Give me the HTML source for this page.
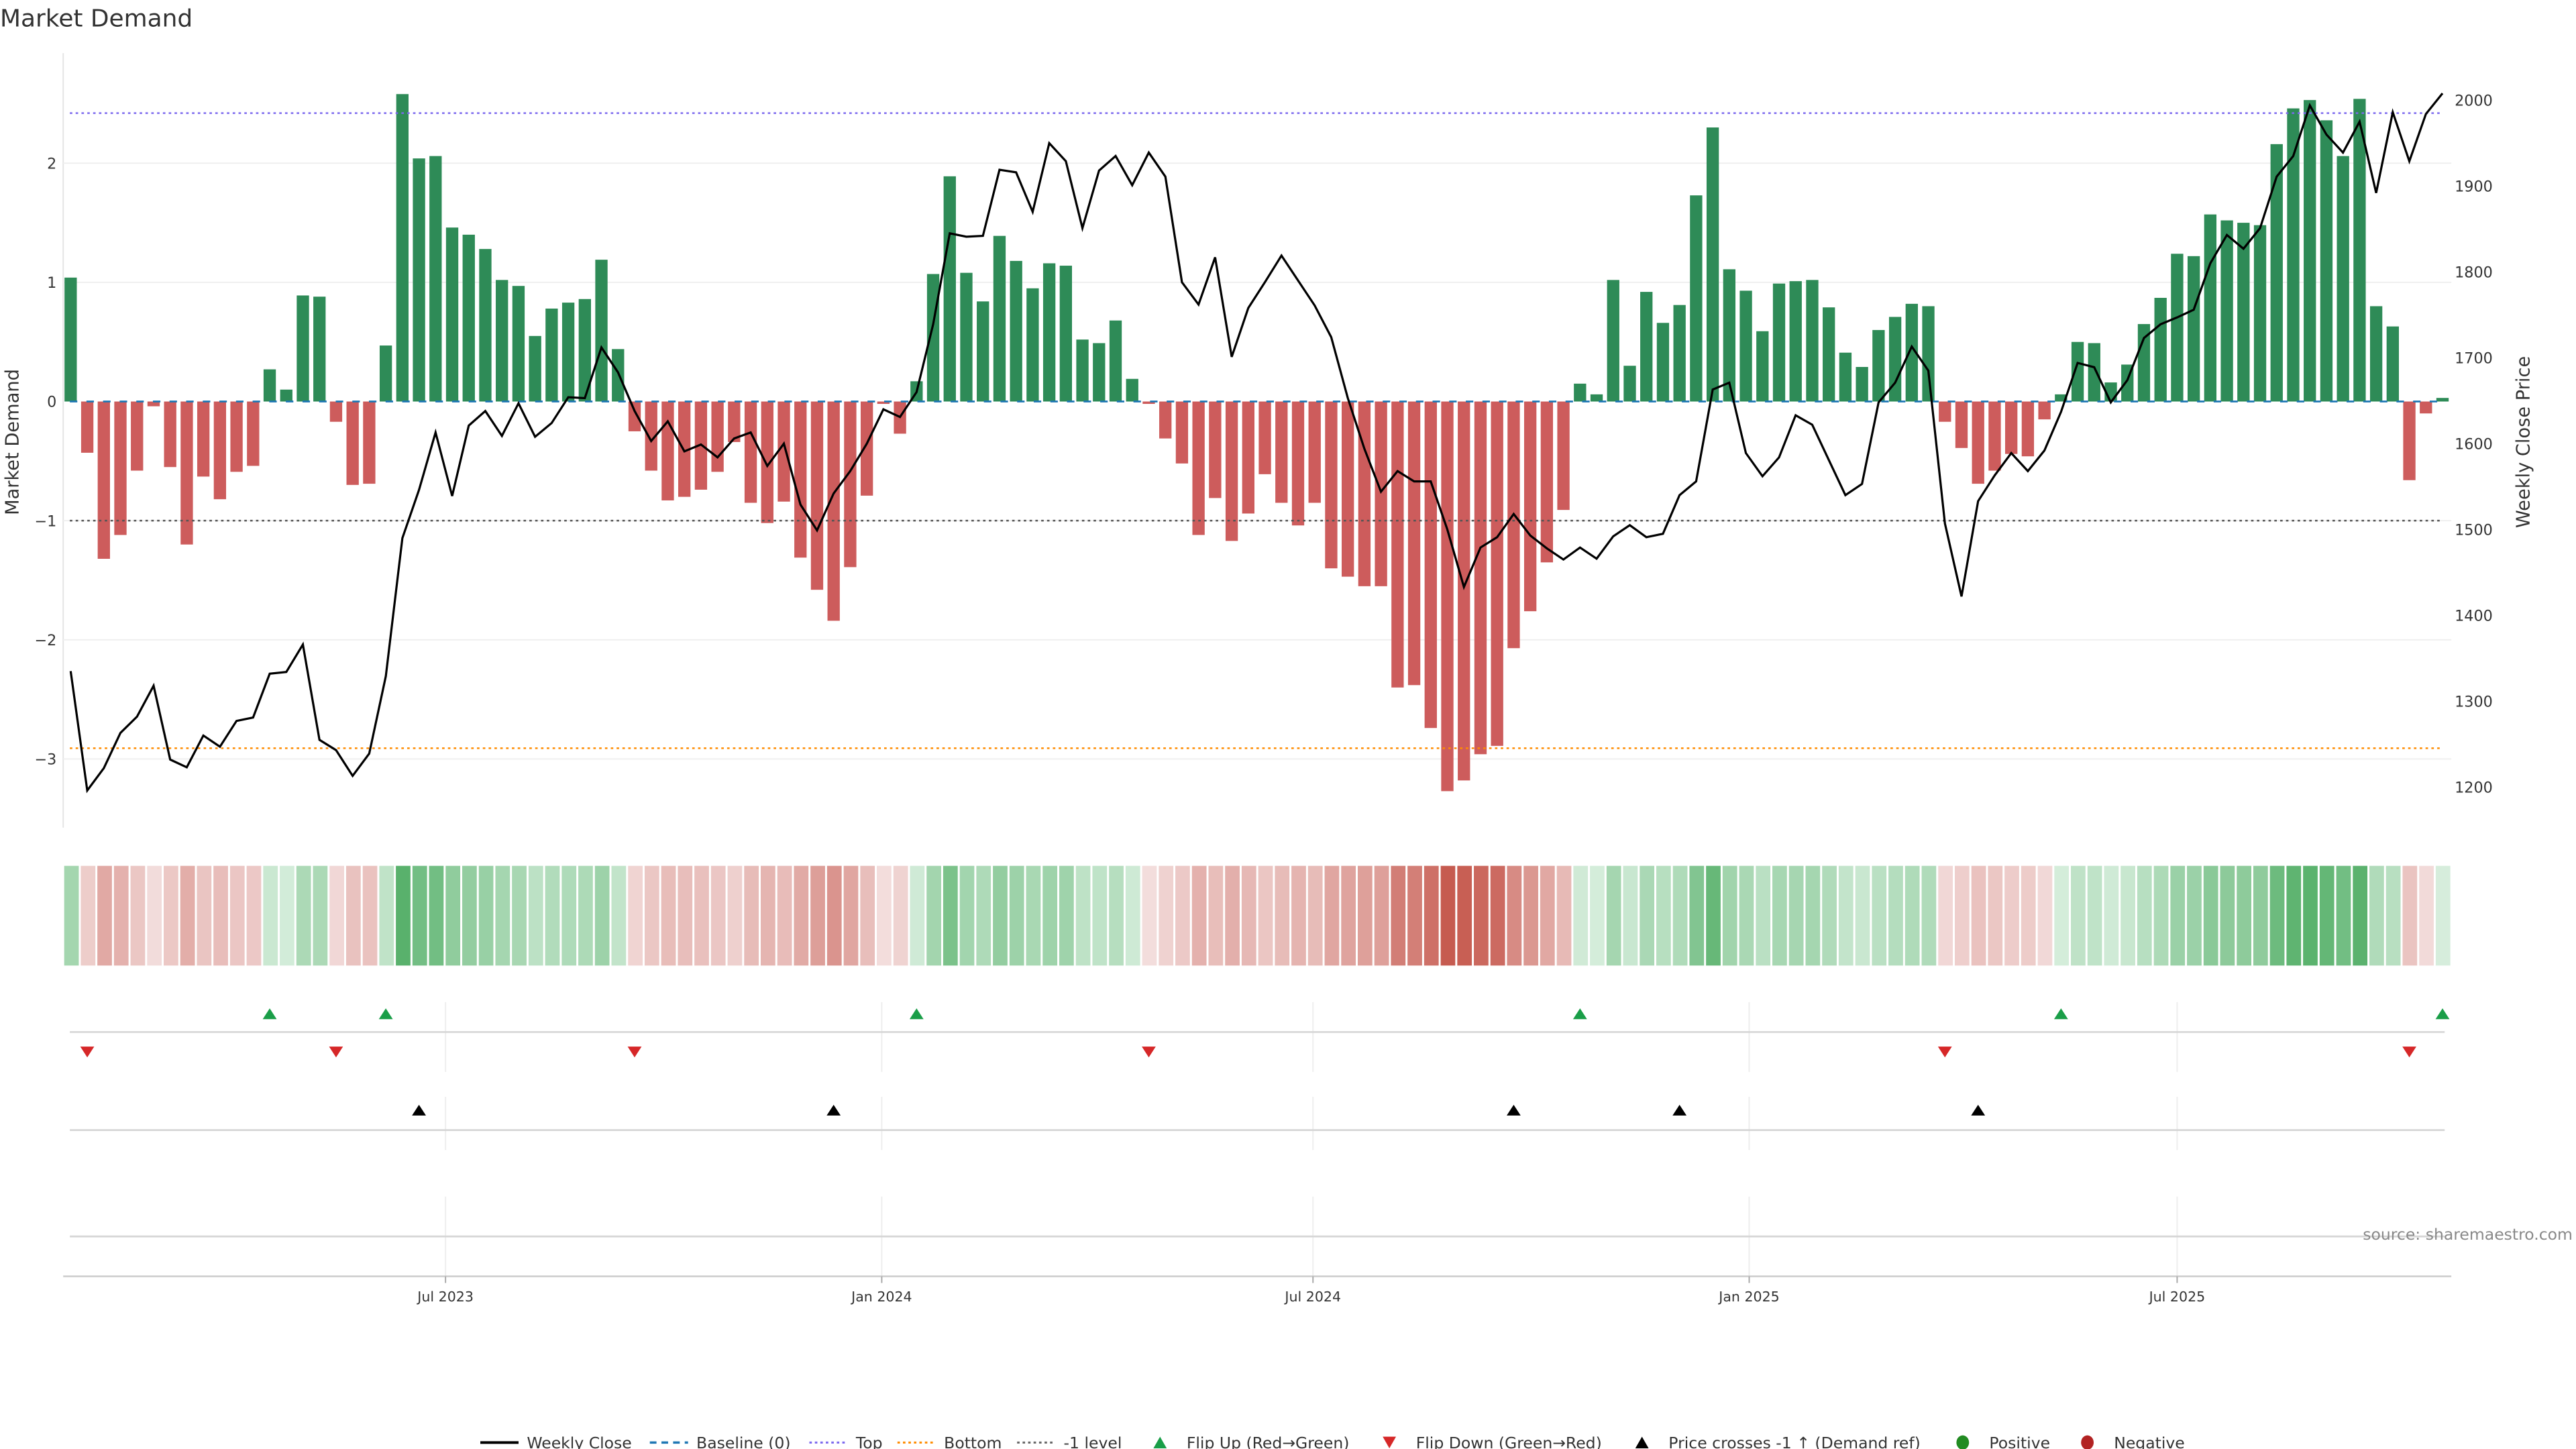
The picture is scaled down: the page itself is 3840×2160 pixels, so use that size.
<!DOCTYPE html>
<html><head><meta charset="utf-8"><title>Market Demand</title>
<style>
html,body{margin:0;padding:0;background:#fff;}
svg{display:block;font-family:"DejaVu Sans","Liberation Sans",sans-serif;}
</style></head>
<body>
<svg id="chart" xmlns="http://www.w3.org/2000/svg" width="3840" height="2160" viewBox="0 0 1550 871.9">
  <text x="0" y="16" font-size="14.5" fill="#333">Market Demand</text>
  <text transform="translate(11,266) rotate(-90)" text-anchor="middle" font-size="11" fill="#333">Market Demand</text>
  <text transform="translate(1522,266) rotate(-90)" text-anchor="middle" font-size="11" fill="#333">Weekly Close Price</text>
  <g id="main"></g>
  <g id="heat"></g>
  <g id="events"></g>
  <g id="xaxis"></g>
  <text x="1548" y="746" text-anchor="end" font-size="9.5" fill="#888">source: sharemaestro.com</text>
  <g id="legend"></g>
</svg>
<script>
// ---- data ----
const demand = [1.04,-0.43,-1.32,-1.12,-0.58,-0.04,-0.55,-1.20,-0.63,-0.82,-0.59,-0.54,0.27,0.10,0.89,0.88,-0.17,-0.70,-0.69,0.47,
2.58,2.04,2.06,1.46,1.40,1.28,1.02,0.97,0.55,0.78,0.83,0.86,1.19,0.44,-0.25,-0.58,-0.83,-0.80,-0.74,-0.59,
-0.34,-0.85,-1.02,-0.84,-1.31,-1.58,-1.84,-1.39,-0.79,-0.02,-0.27,0.17,1.07,1.89,1.08,0.84,1.39,1.18,0.95,1.16,
1.14,0.52,0.49,0.68,0.19,-0.02,-0.31,-0.52,-1.12,-0.81,-1.17,-0.94,-0.61,-0.85,-1.04,-0.85,-1.40,-1.47,-1.55,-1.55,
-2.40,-2.38,-2.74,-3.27,-3.18,-2.96,-2.89,-2.07,-1.76,-1.35,-0.91,0.15,0.06,1.02,0.30,0.92,0.66,0.81,1.73,2.30,
1.11,0.93,0.59,0.99,1.01,1.02,0.79,0.41,0.29,0.60,0.71,0.82,0.80,-0.17,-0.39,-0.69,-0.58,-0.44,-0.46,-0.15,
0.06,0.50,0.49,0.16,0.31,0.65,0.87,1.24,1.22,1.57,1.52,1.50,1.48,2.16,2.46,2.53,2.36,2.06,2.54,0.80,
0.63,-0.66,-0.10,0.03];
const closePrice = [1335,1196,1222,1263,1282,1318,1232,1223,1260,1247,1277,1281,1332,1334,1366,1255,1243,1213,1239,1329,
1490,1546,1613,1539,1621,1638,1609,1647,1608,1624,1654,1653,1712,1683,1638,1603,1626,1591,1599,1584,
1606,1613,1574,1600,1529,1499,1542,1568,1600,1640,1631,1660,1739,1845,1841,1842,1919,1916,1870,1950,
1929,1851,1918,1935,1901,1939,1911,1788,1762,1817,1701,1758,1788,1819,1790,1761,1724,1653,1594,1544,
1568,1556,1556,1500,1433,1479,1491,1518,1493,1478,1465,1479,1466,1492,1505,1491,1495,1540,1556,1663,
1671,1589,1562,1584,1633,1622,1581,1540,1553,1648,1671,1713,1685,1507,1422,1533,1563,1589,1568,1592,
1637,1694,1689,1648,1674,1723,1739,1747,1756,1810,1843,1827,1851,1911,1935,1994,1960,1939,1975,1892,
1986,1929,1984,2008];
const leftTicks = [2,1,0,-1,-2,-3];
const leftTickLabels = ["2","1","0","\u22121","\u22122","\u22123"];
const rightTicks = [2000,1900,1800,1700,1600,1500,1400,1300,1200];
const topLevel = 2.42;
const bottomLevel = -2.91;
const refLevel = -1;
const demandRefPrice = 1509;
const dateTicks = ["Jul 2023","Jan 2024","Jul 2024","Jan 2025","Jul 2025"];
const dateTickWeeks = [22.6,48.9,74.9,101.2,127.0];

// ---- scales ----
const N = demand.length;
const x = i => 42.5 + i * (1427.2 / (N - 1));           // index -> px
const yL = v => 241.6 - 71.7 * v;                         // demand -> px
const yR = p => 60.3 + (2000 - p) * 0.5166;               // price -> px
const NS = "http://www.w3.org/2000/svg";
function mk(tag, attrs, parent) {
  const e = document.createElementNS(NS, tag);
  for (const k in attrs) e.setAttribute(k, attrs[k]);
  parent.appendChild(e); return e;
}
const main = document.getElementById('main');
const heat = document.getElementById('heat');
const ev = document.getElementById('events');
const xa = document.getElementById('xaxis');
const lg = document.getElementById('legend');

// grid & axes
let s = mk('line', {x1:38,x2:38,y1:32,y2:498,stroke:'#e4e4e4','stroke-width':0.8}, main);


leftTicks.forEach((v, k) => {
  if (v !== 0) {
    const g = mk('line', {x1:38,x2:1475,y1:yL(v),y2:yL(v),stroke:'#efefef','stroke-width':0.8}, main);
    
    
  }
  const t = mk('text', {x:34,y:yL(v)+3.3,'text-anchor':'end','font-size':9,fill:'#333'}, main);
  t.textContent = leftTickLabels[k];
  
  
});
rightTicks.forEach(p => {
  const t = mk('text', {x:1477,y:yR(p)+3.3,'font-size':9,fill:'#333'}, main);
  t.textContent = String(p);
  
  
});

// bars
const bw = 7.4;
demand.forEach((v, i) => {
  const y0 = yL(0), y1 = yL(v);
  const r = mk('rect', {x:x(i)-bw/2, y:Math.min(y0,y1), width:bw, height:Math.max(0.6,Math.abs(y1-y0)), fill: v>=0 ? '#2e8b57' : '#cd5c5c'}, main);
  
  
});
// reference lines
function hline(v, col, dash, name, w) {
  const l = mk('line', {x1:42,x2:1470,y1:yL(v),y2:yL(v),stroke:col,'stroke-width':w||1,'stroke-dasharray':dash}, main);
  
  
}
hline(0, '#1f77b4', '4.5,5.5', 'baseline-line', 1.1);
hline(topLevel, '#7b68ee', '1.5,2', 'top-line', 1);
hline(bottomLevel, '#ff8c00', '1.5,2', 'bottom-line', 1);
hline(refLevel, '#555', '1.5,2', 'minus-one-line', 1);

// price line
const pts = closePrice.map((p, i) => x(i).toFixed(2) + ',' + yR(p).toFixed(2)).join(' ');
const pl = mk('polyline', {points:pts, fill:'none', stroke:'#000', 'stroke-width':1.3, 'stroke-linejoin':'miter'}, main);



// heatmap strip
function lerp(a, b, t) { return a.map((c, k) => Math.round(c + (b[k]-c)*t)); }
const cw = 1437 / N;
demand.forEach((v, i) => {
  let col;
  if (v >= 0) col = lerp([215,238,221],[88,177,107],Math.min(1, v/2.6));
  else col = lerp([243,222,221],[198,90,79],Math.min(1, -v/3.3));
  const r = mk('rect', {x:38+i*cw+0.6, y:521, width:cw-1.2, height:60, fill:'rgb('+col.join(',')+')'}, heat);
  
  
});

// event panels
const panelLines = [621, 680, 744];
const panelGrid = [[603,645],[660,692],[720,768]];
const tickX = dateTickWeeks.map(w => x(w));
panelGrid.forEach(([a,b]) => tickX.forEach(tx => {
  const g = mk('line', {x1:tx,x2:tx,y1:a,y2:b,stroke:'#eeeeee','stroke-width':0.8}, ev);
  
  
}));
panelLines.forEach(py => {
  const l = mk('line', {x1:42,x2:1471,y1:py,y2:py,stroke:'#d6d6d6','stroke-width':1.1}, ev);
  
  
});
function tri(cx, cy, up, col, name) {
  const h = 6.5, w = 4.2;
  const p = up ? `${cx-w},${cy+h/2} ${cx+w},${cy+h/2} ${cx},${cy-h/2}` : `${cx-w},${cy-h/2} ${cx+w},${cy-h/2} ${cx},${cy+h/2}`;
  const t = mk('polygon', {points:p, fill:col}, ev);
  
  
}
for (let i = 1; i < N; i++) {
  if (demand[i-1] < 0 && demand[i] >= 0) tri(x(i), 610, true, '#1a9e48', 'flip-up-marker');
  if (demand[i-1] >= 0 && demand[i] < 0) tri(x(i), 633, false, '#d62728', 'flip-down-marker');
  if (closePrice[i-1] < demandRefPrice && closePrice[i] >= demandRefPrice) tri(x(i), 668, true, '#000', 'price-cross-marker');
}

// x axis
const ax = mk('line', {x1:38,x2:1475,y1:768,y2:768,stroke:'#d0d0d0','stroke-width':1.1}, xa);


dateTicks.forEach((lab, k) => {
  const tx = tickX[k];
  const tk = mk('line', {x1:tx,x2:tx,y1:768,y2:772,stroke:'#aaa','stroke-width':0.8}, xa);
  
  
  const t = mk('text', {x:tx,y:783,'text-anchor':'middle','font-size':8.3,fill:'#333'}, xa);
  t.textContent = lab;
  
  
});

// legend
const legendLabels = ["Weekly Close","Baseline (0)","Top","Bottom","-1 level","Flip Up (Red\u2192Green)","Flip Down (Green\u2192Red)","Price crosses -1 \u2191 (Demand ref)","Positive","Negative"];
const legendTextX = [317,419,515,568,640,714,852,1004,1197,1272];
const LY = 868;
legendLabels.forEach((lab, k) => {
  const g = mk('g', {}, lg);
  
  
  const tx = legendTextX[k];
  if (k <= 4) {
    const styles = [['#000','',1.6],['#1f77b4','4,3',1.4],['#7b68ee','1.5,1.8',1.2],['#ff8c00','1.5,1.8',1.2],['#666','1.5,1.8',1.2]][k];
    const l = mk('line', {x1:tx-28,x2:tx-5,y1:LY,y2:LY,stroke:styles[0],'stroke-width':styles[2]}, g);
    if (styles[1]) l.setAttribute('stroke-dasharray', styles[1]);
  } else if (k <= 7) {
    const col = ['#1a9e48','#d62728','#000'][k-5];
    const cx = tx - 16, up = k !== 6;
    const p = up ? `${cx-4},${LY+3.5} ${cx+4},${LY+3.5} ${cx},${LY-3.5}` : `${cx-4},${LY-3.5} ${cx+4},${LY-3.5} ${cx},${LY+3.5}`;
    mk('polygon', {points:p, fill:col}, g);
  } else {
    mk('ellipse', {cx:tx-16, cy:LY, rx:3.8, ry:4.3, fill: k===8 ? '#228b22' : '#b22222'}, g);
  }
  const t = mk('text', {x:tx, y:LY+3.4, 'font-size':9.5, fill:'#333'}, g);
  t.textContent = lab;
});
</script>
</body></html>
